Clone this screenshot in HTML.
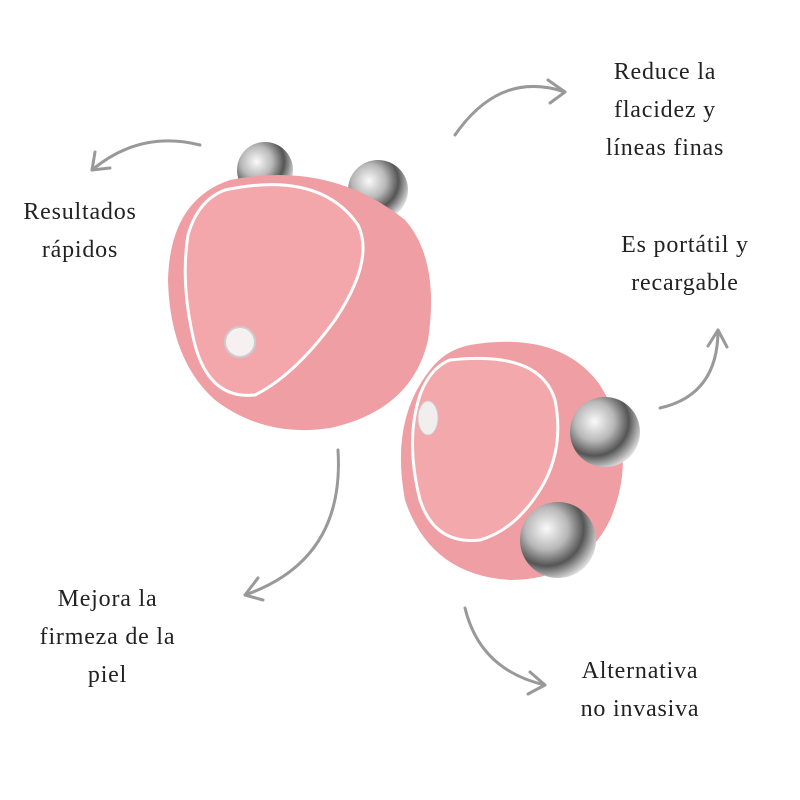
<!DOCTYPE html>
<html><head><style>
html,body{margin:0;padding:0;background:#fff;}
.t{position:absolute;font-family:"Liberation Serif",serif;font-size:24px;color:#222;text-align:center;line-height:38px;letter-spacing:0.8px}
</style></head><body>
<div style="position:relative;width:800px;height:800px;overflow:hidden">
<svg width="800" height="800" style="position:absolute;left:0;top:0">
<defs>
<radialGradient id="m" cx="35%" cy="35%" r="70%"><stop offset="0" stop-color="#fafafa"/><stop offset="0.4" stop-color="#b8b8b8"/><stop offset="0.7" stop-color="#555"/><stop offset="1" stop-color="#ddd"/></radialGradient>
</defs>
<g fill="none" stroke="#999" stroke-width="3" stroke-linecap="round">
<path d="M200 145 Q140 130 92 170"/><path d="M92 170 L95 152 M92 170 L110 168"/>
<path d="M455 135 Q500 70 565 92"/><path d="M565 92 L548 80 M565 92 L550 103"/>
<path d="M660 408 Q718 395 718 330"/><path d="M718 330 L708 346 M718 330 L727 347"/>
<path d="M338 450 Q345 560 245 595"/><path d="M245 595 L258 578 M245 595 L263 600"/>
<path d="M465 608 Q480 670 545 685"/><path d="M545 685 L530 672 M545 685 L528 694"/>
</g>
<circle cx="265" cy="170" r="28" fill="url(#m)"/>
<circle cx="378" cy="190" r="30" fill="url(#m)"/>
<path d="M230 180 Q330 160 405 220 Q440 260 428 340 Q412 410 330 428 Q265 438 215 400 Q170 360 168 280 Q170 200 230 180Z" fill="#ef9ea3"/>
<path d="M225 190 Q320 170 358 225 Q375 260 335 320 Q295 375 255 395 Q210 400 195 345 Q180 285 188 235 Q198 200 225 190Z" fill="#f3a7ab" stroke="#fff" stroke-width="3"/>
<circle cx="240" cy="342" r="15" fill="#f7f0f0" stroke="#ccc" stroke-width="2"/>
<path d="M470 345 Q560 330 600 385 Q640 450 610 520 Q580 580 510 580 Q430 575 405 500 Q390 420 430 370 Q445 350 470 345Z" fill="#ef9ea3"/>
<path d="M450 360 Q540 350 555 400 Q565 450 540 490 Q515 530 480 540 Q435 545 420 500 Q405 440 420 395 Q430 368 450 360Z" fill="#f3a8ac" stroke="#fff" stroke-width="3"/>
<ellipse cx="428" cy="418" rx="10" ry="17" fill="#f3eeee" stroke="#ccc"/>
<circle cx="605" cy="432" r="35" fill="url(#m)"/>
<circle cx="558" cy="540" r="38" fill="url(#m)"/>
</svg>
<div class="t" style="left:0px;top:193px;width:160px">Resultados<br>rápidos</div>
<div class="t" style="left:585px;top:53px;width:160px">Reduce la<br>flacidez y<br>líneas finas</div>
<div class="t" style="left:600px;top:226px;width:170px">Es portátil y<br>recargable</div>
<div class="t" style="left:15px;top:580px;width:185px">Mejora la<br>firmeza de la<br>piel</div>
<div class="t" style="left:560px;top:652px;width:160px">Alternativa<br>no invasiva</div>
</div>
</body></html>
